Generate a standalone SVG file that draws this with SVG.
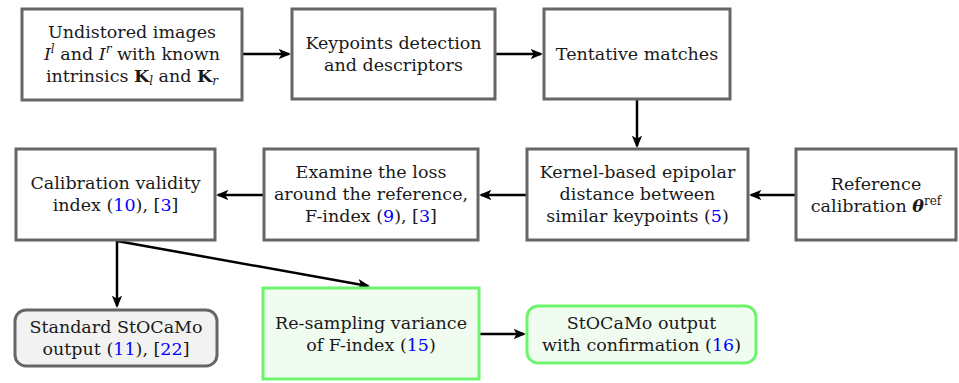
<svg xmlns="http://www.w3.org/2000/svg" width="959" height="383" viewBox="0 0 959 383">
  <style>
    .box { fill: #ffffff; stroke: #666666; stroke-width: 3; }
    .out { fill: #f2f2f2; stroke: #666666; stroke-width: 3; }
    .grn { fill: #f1fcf1; stroke: #6cf56c; stroke-width: 3; }
    .t { font-family: "DejaVu Serif", "Liberation Serif", serif; font-size: 17.5px; fill: #1a1a1a; text-anchor: middle; }
    .ref { fill: #0000ff; }
    .it { font-style: italic; }
    .bf { font-weight: bold; }
    .edge { fill: none; stroke: #000000; stroke-width: 2.5; marker-end: url(#arr); }
  </style>
  <defs>
    <marker id="arr" viewBox="0 0 12 10" refX="10" refY="5" markerWidth="5" markerHeight="4.2" markerUnits="strokeWidth" orient="auto">
      <path d="M0,0 L12,5 L0,10 L3,5 Z" fill="#000000"/>
    </marker>
  </defs>

  <g id="connectors">
    <line class="edge" x1="243" y1="54" x2="289" y2="54"/>
    <line class="edge" x1="495" y1="54" x2="541" y2="54"/>
    <line class="edge" x1="637" y1="100" x2="637" y2="146"/>
    <line class="edge" x1="795" y1="195" x2="751" y2="195"/>
    <line class="edge" x1="527" y1="195" x2="481" y2="195"/>
    <line class="edge" x1="263" y1="195" x2="218" y2="195"/>
    <line class="edge" x1="117" y1="240" x2="117" y2="306"/>
    <polyline class="edge" points="117,241 368,286"/>
    <line class="edge" x1="479" y1="334" x2="524" y2="334"/>
  </g>

  <g id="undistorted">
    <rect class="box" x="22" y="9" width="220" height="91"/>
    <text class="t" x="132" y="38">Undistored images</text>
    <text class="t" x="132" y="60"><tspan class="it">I</tspan><tspan class="it" font-size="12" dy="-7">l</tspan><tspan dy="7"> and </tspan><tspan class="it">I</tspan><tspan class="it" font-size="12" dy="-7">r</tspan><tspan dy="7"> with known</tspan></text>
    <text class="t" x="132" y="82">intrinsics <tspan class="bf">K</tspan><tspan class="it" font-size="12" dy="3">l</tspan><tspan dy="-3"> and </tspan><tspan class="bf">K</tspan><tspan class="it" font-size="12" dy="3">r</tspan></text>
  </g>

  <g id="keypoints">
    <rect class="box" x="292" y="9" width="203" height="90"/>
    <text class="t" x="393.5" y="49">Keypoints detection</text>
    <text class="t" x="393.5" y="71">and descriptors</text>
  </g>

  <g id="matches">
    <rect class="box" x="544" y="9" width="186" height="90"/>
    <text class="t" x="637" y="60">Tentative matches</text>
  </g>

  <g id="kernel">
    <rect class="box" x="527" y="149" width="221" height="91"/>
    <text class="t" x="637.5" y="178">Kernel-based epipolar</text>
    <text class="t" x="637.5" y="200">distance between</text>
    <text class="t" x="637.5" y="222">similar keypoints (<tspan class="ref">5</tspan>)</text>
  </g>

  <g id="reference">
    <rect class="box" x="796" y="149" width="160" height="91"/>
    <text class="t" x="876" y="190">Reference</text>
    <text class="t" x="876" y="212">calibration <tspan class="bf it">θ</tspan><tspan font-size="12" dy="-7">ref</tspan></text>
  </g>

  <g id="examine">
    <rect class="box" x="264" y="149" width="214" height="91"/>
    <text class="t" x="371" y="178">Examine the loss</text>
    <text class="t" x="371" y="200">around the reference,</text>
    <text class="t" x="371" y="222">F-index (<tspan class="ref">9</tspan>), [<tspan class="ref">3</tspan>]</text>
  </g>

  <g id="validity">
    <rect class="box" x="16" y="149" width="199" height="91"/>
    <text class="t" x="115.5" y="189">Calibration validity</text>
    <text class="t" x="115.5" y="211">index (<tspan class="ref">10</tspan>), [<tspan class="ref">3</tspan>]</text>
  </g>

  <g id="standard">
    <rect class="out" x="15" y="310" width="202" height="56" rx="11"/>
    <text class="t" x="116" y="333">Standard StOCaMo</text>
    <text class="t" x="116" y="355">output (<tspan class="ref">11</tspan>), [<tspan class="ref">22</tspan>]</text>
  </g>

  <g id="resampling">
    <rect class="grn" x="263" y="288" width="216" height="91"/>
    <text class="t" x="371" y="329">Re-sampling variance</text>
    <text class="t" x="371" y="351">of F-index (<tspan class="ref">15</tspan>)</text>
  </g>

  <g id="confirmation">
    <rect class="grn" x="527" y="306" width="229" height="57" rx="11"/>
    <text class="t" x="641.5" y="329">StOCaMo output</text>
    <text class="t" x="641.5" y="351">with confirmation (<tspan class="ref">16</tspan>)</text>
  </g>
</svg>
